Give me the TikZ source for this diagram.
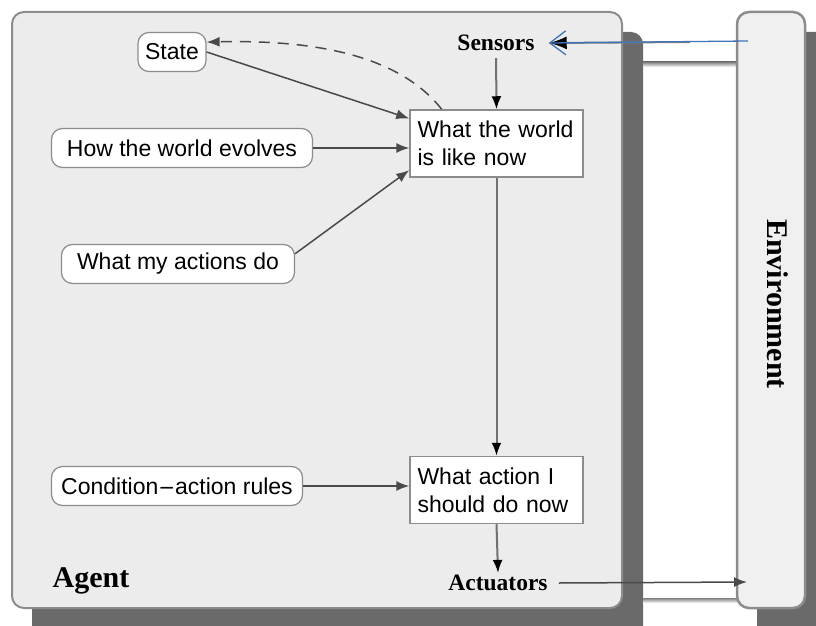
\documentclass[tikz,border=0pt]{standalone}
\usepackage{fontspec}
\setmainfont{Liberation Serif}
\setsansfont{Liberation Sans}
\usetikzlibrary{arrows.meta}

\definecolor{panel}{HTML}{ECECEC}
\definecolor{envpanel}{HTML}{F0F0F0}
\definecolor{edgegray}{HTML}{8C8C8C}
\definecolor{shade}{HTML}{6A6A6A}
\definecolor{wiregray}{HTML}{4A4A4A}
\definecolor{trunkgray}{HTML}{707070}
\definecolor{sensorblue}{HTML}{3F75B8}

\tikzset{
  panelbox/.style={draw=edgegray, line width=2pt, fill=panel, rounded corners=12pt},
  envbox/.style={draw=edgegray, line width=2.5pt, fill=envpanel, rounded corners=12pt},
  shadowbox/.style={fill=shade, rounded corners=12pt},
  knowledge/.style={draw=edgegray, line width=1.2pt, fill=white, rounded corners=11pt,
    font=\sffamily\fontsize{23}{27}\selectfont, inner xsep=7pt, inner ysep=0pt,
    minimum height=39pt},
  stepbox/.style={draw=edgegray, line width=1.5pt, fill=white,
    font=\sffamily\fontsize{23}{28}\selectfont, align=left, text width=158pt,
    inner xsep=7.5pt, minimum height=67pt},
  tag/.style={font=\bfseries\fontsize{23.5}{27}\selectfont, inner sep=2pt},
  bigtag/.style={font=\bfseries\fontsize{30}{34}\selectfont, inner sep=2pt},
  wire/.style={draw=wiregray, line width=1.5pt, -{Latex[length=13pt,width=10pt]}},
  trunk/.style={draw=trunkgray, line width=2pt, -{Latex[length=13pt,width=10pt,color=black]}},
  feedback/.style={draw=wiregray, line width=1.5pt, dash pattern=on 11pt off 8pt,
    -{Latex[length=13pt,width=10pt]}},
}

\begin{document}
\begin{tikzpicture}[x=1pt, y=-1pt]
  \useasboundingbox (0,0) rectangle (816,626);
  \clip (0,0) rectangle (816,626);

  % drop shadows behind the two panels
  \fill[shadowbox] (32,32) rectangle (643,650);
  \fill[shadowbox] (757,32) rectangle (840,650);
  \fill[shade] (643,62) rectangle (737,67);
  \fill[shade] (643,598) rectangle (737,603);

  % agent and environment panels
  \draw[panelbox] (12,12) rectangle (622,608);
  \draw[envbox] (737,12) rectangle (805,608);

  % panel titles
  \node[bigtag] (agent) at (91,581) {Agent};
  \node[bigtag, rotate=-90] (env) at (778,304) {Environment};
  \node[tag] (sensors) at (496,43) {Sensors};
  \node[tag] (actuators) at (498,583) {Actuators};

  % knowledge the agent holds
  \node[knowledge, minimum width=68pt] (state) at (172,52) {State};
  \node[knowledge, minimum width=261pt] (evolves) at (182,148) {How the world evolves};
  \node[knowledge, minimum width=233pt] (actions) at (178,264) {What my actions do};
  \node[knowledge, minimum width=251pt] (rules) at (177,486) {Condition{\fontspec{DejaVu Sans}\fontsize{20}{24}\selectfont −}action rules};

  % reasoning steps
  \node[stepbox] (world) at (496.5,143.5) {What the world\\is like now};
  \node[stepbox] (decide) at (496.5,490) {What action I\\should do now};

  % free ends of the percept and action links
  \coordinate (percept-tail) at (690,42);
  \coordinate (percept-src) at (748,41);
  \coordinate (percept-tip) at ([xshift=12pt]sensors.east);
  \coordinate (act-start) at ([xshift=9pt]actuators.east);
  \coordinate (act-tip) at (747,582);

  % links
  \draw[trunk, shorten <=5pt] (sensors.south) -- (world.north);
  \draw[wire] (state.east) -- (world.164);
  \draw[wire] (evolves.east) -- (evolves.east -| world.west);
  \draw[wire] (actions.5) -- (world.197);
  \draw[trunk] (world.south) -- (decide.north);
  \draw[wire] (rules.east) -- (rules.east -| decide.west);
  \draw[trunk] (decide.south) -- (actuators.north);
  \draw[wire] (act-start) -- (act-tip);
  \draw[feedback] (world.148) .. controls (395,50) and (300,40) .. (state.16);

  % percept arrow from the environment
  \draw[draw=gray, line width=2pt, -{Latex[length=18pt,width=13pt,color=black]}]
    (percept-tail) -- (percept-tip);
  \draw[sensorblue, line width=1.3pt, -{Straight Barb[length=16pt,width=24pt]}]
    (percept-src) -- (percept-tip);
\end{tikzpicture}
\end{document}
